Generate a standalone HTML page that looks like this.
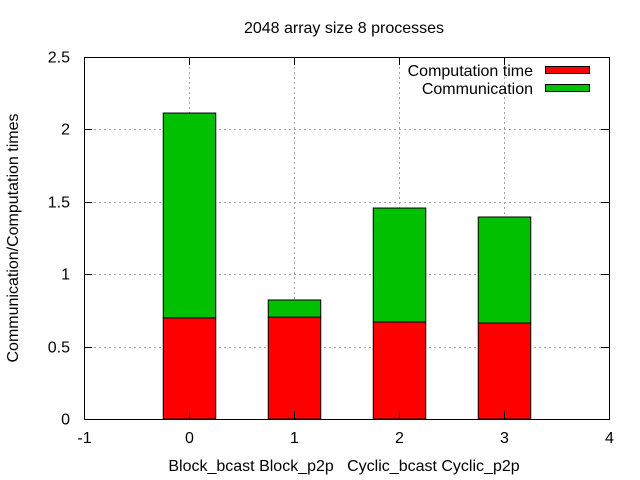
<!DOCTYPE html>
<html><head><meta charset="utf-8"><style>
html,body{margin:0;padding:0;background:#fff}
svg{display:block;font-family:"Liberation Sans",sans-serif;font-size:16px}
</style></head><body>
<svg id="chart" width="640" height="480" viewBox="0 0 640 480">
<text x="344" y="33" text-anchor="middle">2048 array size 8 processes</text>
<text transform="translate(18,238) rotate(-90)" text-anchor="middle">Communication/Computation times</text>
<g id="grid"></g><g id="bars"></g><g id="ticks"></g>
<rect x="84.5" y="57.5" width="525" height="362" fill="none" stroke="#000"/>
<g>
<text x="533" y="76" text-anchor="end">Computation time</text>
<rect x="545.5" y="66.5" width="44" height="7" fill="#ff0000" stroke="#000"/>
<text x="533" y="94" text-anchor="end">Communication</text>
<rect x="545.5" y="84.5" width="44" height="7" fill="#00c000" stroke="#000"/>
</g>
</svg>
<script>
const categories=["Block_bcast","Block_p2p","Cyclic_bcast","Cyclic_p2p"];
const computation=[0.698,0.704,0.670,0.663];
const communication=[1.415,0.118,0.787,0.732];
const xTicks=[-1,0,1,2,3,4];
const yTicks=[0,0.5,1,1.5,2,2.5];
const yTickLabels=["0","0.5","1","1.5","2","2.5"];
const NS="http://www.w3.org/2000/svg";
const X=v=>84+(v+1)*105, Y=v=>419-v*144.8;
function mk(t,a,p){const e=document.createElementNS(NS,t);for(const k in a)e.setAttribute(k,a[k]);p.appendChild(e);return e;}
const grid=document.getElementById('grid'),bars=document.getElementById('bars'),ticks=document.getElementById('ticks');
yTicks.forEach((v,i)=>{
 const y=Math.round(Y(v))+0.5;
 if(i>0&&i<yTicks.length-1){const g=mk('line',{x1:84,x2:609,y1:y,y2:y,stroke:'#a0a0a0','stroke-dasharray':'2,3'},grid);
 
 }
 mk('line',{x1:84,x2:92,y1:y,y2:y,stroke:'#000'},ticks);
 mk('line',{x1:601,x2:609,y1:y,y2:y,stroke:'#000'},ticks);
 const t=mk('text',{x:70,y:y+5,'text-anchor':'end'},ticks);t.textContent=yTickLabels[i];
 
 
});
xTicks.forEach((v,i)=>{
 const x=Math.round(X(v))+0.5;
 if(i>0&&i<xTicks.length-1){const g=mk('line',{x1:x,x2:x,y1:57,y2:419,stroke:'#a0a0a0','stroke-dasharray':'2,3'},grid);
 
 }
 mk('line',{x1:x,x2:x,y1:411,y2:419,stroke:'#000'},ticks);
 mk('line',{x1:x,x2:x,y1:57,y2:65,stroke:'#000'},ticks);
 const t=mk('text',{x:x,y:443,'text-anchor':'middle'},ticks);t.textContent=String(v);
 
 
});
categories.forEach((c,i)=>{
 const x0=X(i-0.25),w=X(i+0.25)-x0;
 const r1=mk('rect',{x:x0+0.5,y:Y(computation[i]),width:w,height:Y(0)-Y(computation[i]),fill:'#ff0000',stroke:'#000'},bars);
 
 
 const tot=computation[i]+communication[i];
 const r2=mk('rect',{x:x0+0.5,y:Y(tot),width:w,height:Y(computation[i])-Y(tot),fill:'#00c000',stroke:'#000'},bars);
 
 
});
const xl=mk('text',{x:344,y:471,'text-anchor':'middle','xml:space':'preserve'},ticks);
xl.style.whiteSpace='pre';
xl.textContent=categories[0]+' '+categories[1]+'   '+categories[2]+' '+categories[3];


</script>
</body></html>
